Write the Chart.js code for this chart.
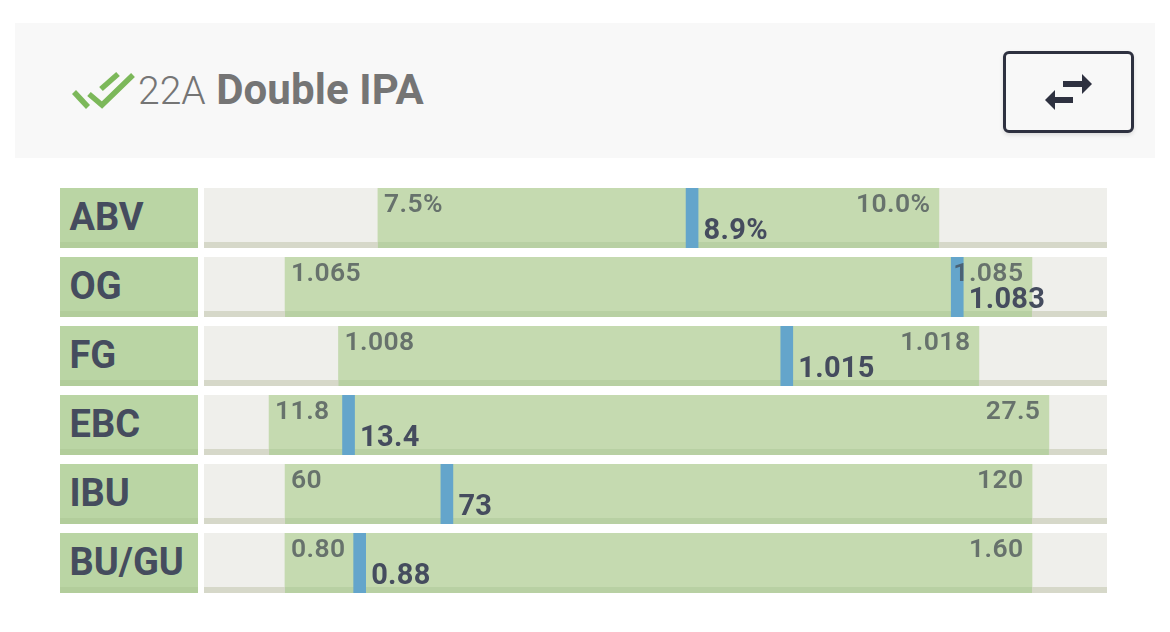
<!DOCTYPE html>
<html>
<head>
<meta charset="utf-8">
<title>22A Double IPA</title>
<script src="https://cdn.jsdelivr.net/npm/chart.js@4"></script>
<style>
    html, body { margin: 0; padding: 0; background: #fff; font-family: Roboto, sans-serif; }
    body { position: relative; width: 1170px; height: 632px; overflow: hidden; }
    #header { position: absolute; left: 15px; top: 23px; width: 1140px; height: 135px; background: #f8f8f8; }
    #title { position: absolute; left: 138px; top: 67px; font-size: 39px; line-height: 46px; color: #757575; font-weight: 300; white-space: nowrap; }
    #title b { font-size: 42px; font-weight: 700; letter-spacing: 0.1px; margin-left: 1px; }
    #swap { position: absolute; left: 1003px; top: 51px; width: 125px; height: 76px; border: 3px solid #2e3140; border-radius: 6px; background: #f8f8f8; box-shadow: 0 2px 4px rgba(0,0,0,.12); }
    .name { position: absolute; left: 60px; width: 128.5px; height: 60px; padding-left: 9.5px; background: linear-gradient(#bad5a4 54px, #b2cd9b 54px); color: #454c5e; font-size: 38px; font-weight: 700; line-height: 58px; white-space: nowrap; }
    canvas { position: absolute; left: 204px; }
</style>
</head>
<body>
<div id="header"></div>
<svg width="1170" height="160" style="position:absolute;left:0;top:0">
    <g stroke="#7cb85a" stroke-width="5.5" fill="none">
        <line x1="74" y1="92" x2="88" y2="107"/>
        <polyline points="89,94 102,105 133,75"/>
        <line x1="101" y1="89" x2="118" y2="74"/>
    </g>
</svg>
<div id="title">22A <b>Double IPA</b></div>
<div id="swap"></div>
<svg width="1170" height="160" style="position:absolute;left:0;top:0">
    <g fill="#2e3140">
        <rect x="1063" y="81" width="20" height="6"/>
        <polygon points="1082,74 1092,84 1082,94"/>
        <rect x="1055" y="97" width="18" height="6"/>
        <polygon points="1055,90 1045,100 1055,110"/>
    </g>
</svg>
<div id="rows"></div>

<script>
"use strict";

// style ranges, each row has its own scale
var rows = [
    { id: "abv",  name: "ABV",   low: 7.5,   high: 10.0,  value: 8.9,   lowText: "7.5%",  highText: "10.0%", valueText: "8.9%",  min: 6.725,   max: 10.749 },
    { id: "og",   name: "OG",    low: 1.065, high: 1.085, value: 1.083, lowText: "1.065", highText: "1.085", valueText: "1.083", min: 1.06283, max: 1.08701 },
    { id: "fg",   name: "FG",    low: 1.008, high: 1.018, value: 1.015, lowText: "1.008", highText: "1.018", valueText: "1.015", min: 1.0059,  max: 1.0200 },
    { id: "ebc",  name: "EBC",   low: 11.8,  high: 27.5,  value: 13.4,  lowText: "11.8",  highText: "27.5",  valueText: "13.4",  min: 10.49,   max: 28.67 },
    { id: "ibu",  name: "IBU",   low: 60,    high: 120,   value: 73,    lowText: "60",    highText: "120",   valueText: "73",    min: 53.49,   max: 126.02 },
    { id: "bugu", name: "BU/GU", low: 0.80,  high: 1.60,  value: 0.88,  lowText: "0.80",  highText: "1.60",  valueText: "0.88",  min: 0.7133,  max: 1.6803 }
];

var rowTop = 188;
var rowStep = 69;
var rowHeight = 60;
var rowWidth = 903;
var markerWidth = 12;

// bottom strip goes over the range bar but under the marker
var stripPlugin = {
    id: "strip",
    afterDatasetDraw: function (chart, args, opts) {
        if (args.index !== 1) return;
        var a = chart.chartArea;
        var x = chart.scales.x;
        var left = x.getPixelForValue(opts.row.low);
        var right = x.getPixelForValue(opts.row.high);
        var ctx = chart.ctx;
        ctx.save();
        ctx.fillStyle = "#d6d8c9";
        ctx.fillRect(a.left, a.bottom - 6, a.right - a.left, 6);
        ctx.fillStyle = "#b8d0a3";
        ctx.fillRect(left, a.bottom - 6, right - left, 6);
        ctx.restore();
    }
};

var textPlugin = {
    id: "rangeText",
    afterDatasetsDraw: function (chart, args, opts) {
        var ctx = chart.ctx;
        var x = chart.scales.x;
        var row = opts.row;
        ctx.save();
        ctx.textBaseline = "alphabetic";
        ctx.font = "600 26.5px Roboto";
        ctx.letterSpacing = "0.4px";
        ctx.fillStyle = "rgba(62,70,80,0.7)";
        ctx.textAlign = "left";
        ctx.fillText(row.lowText, x.getPixelForValue(row.low) + 6, 24);
        ctx.textAlign = "right";
        ctx.fillText(row.highText, x.getPixelForValue(row.high) - 8.5, 24);
        ctx.font = "700 29px Roboto";
        ctx.letterSpacing = "0.3px";
        ctx.fillStyle = "#454c5e";
        ctx.textAlign = "left";
        ctx.fillText(row.valueText, x.getPixelForValue(row.value) + markerWidth / 2 + 5.5, 51);
        ctx.restore();
    }
};

function generateChart(row, i) {
    var top = rowTop + i * rowStep;
    var name = document.createElement("div");
    name.className = "name";
    name.style.top = top + "px";
    name.textContent = row.name;
    document.getElementById("rows").appendChild(name);

    var canvas = document.createElement("canvas");
    canvas.id = row.id;
    canvas.width = rowWidth;
    canvas.height = rowHeight;
    canvas.style.top = top + "px";
    canvas.style.background = "#efefeb";
    document.getElementById("rows").appendChild(canvas);

    var half = (row.max - row.min) * markerWidth / rowWidth / 2;
    new Chart(canvas, {
        type: "bar",
        data: {
            labels: [row.name],
            datasets: [
                { label: "value", data: [[row.value - half, row.value + half]], backgroundColor: "#64a5cb", order: 0 },
                { label: "range", data: [[row.low, row.high]], backgroundColor: "#c5dab0", order: 1 }
            ]
        },
        options: {
            indexAxis: "y",
            responsive: false,
            animation: false,
            devicePixelRatio: 1,
            layout: { padding: 0 },
            datasets: { bar: { grouped: false, barPercentage: 1, categoryPercentage: 1 } },
            scales: {
                x: { display: false, min: row.min, max: row.max },
                y: { display: false }
            },
            plugins: {
                legend: { display: false },
                tooltip: { enabled: false },
                strip: { row: row },
                rangeText: { row: row }
            }
        },
        plugins: [stripPlugin, textPlugin]
    });
}

rows.forEach(generateChart);
</script>
</body>
</html>
